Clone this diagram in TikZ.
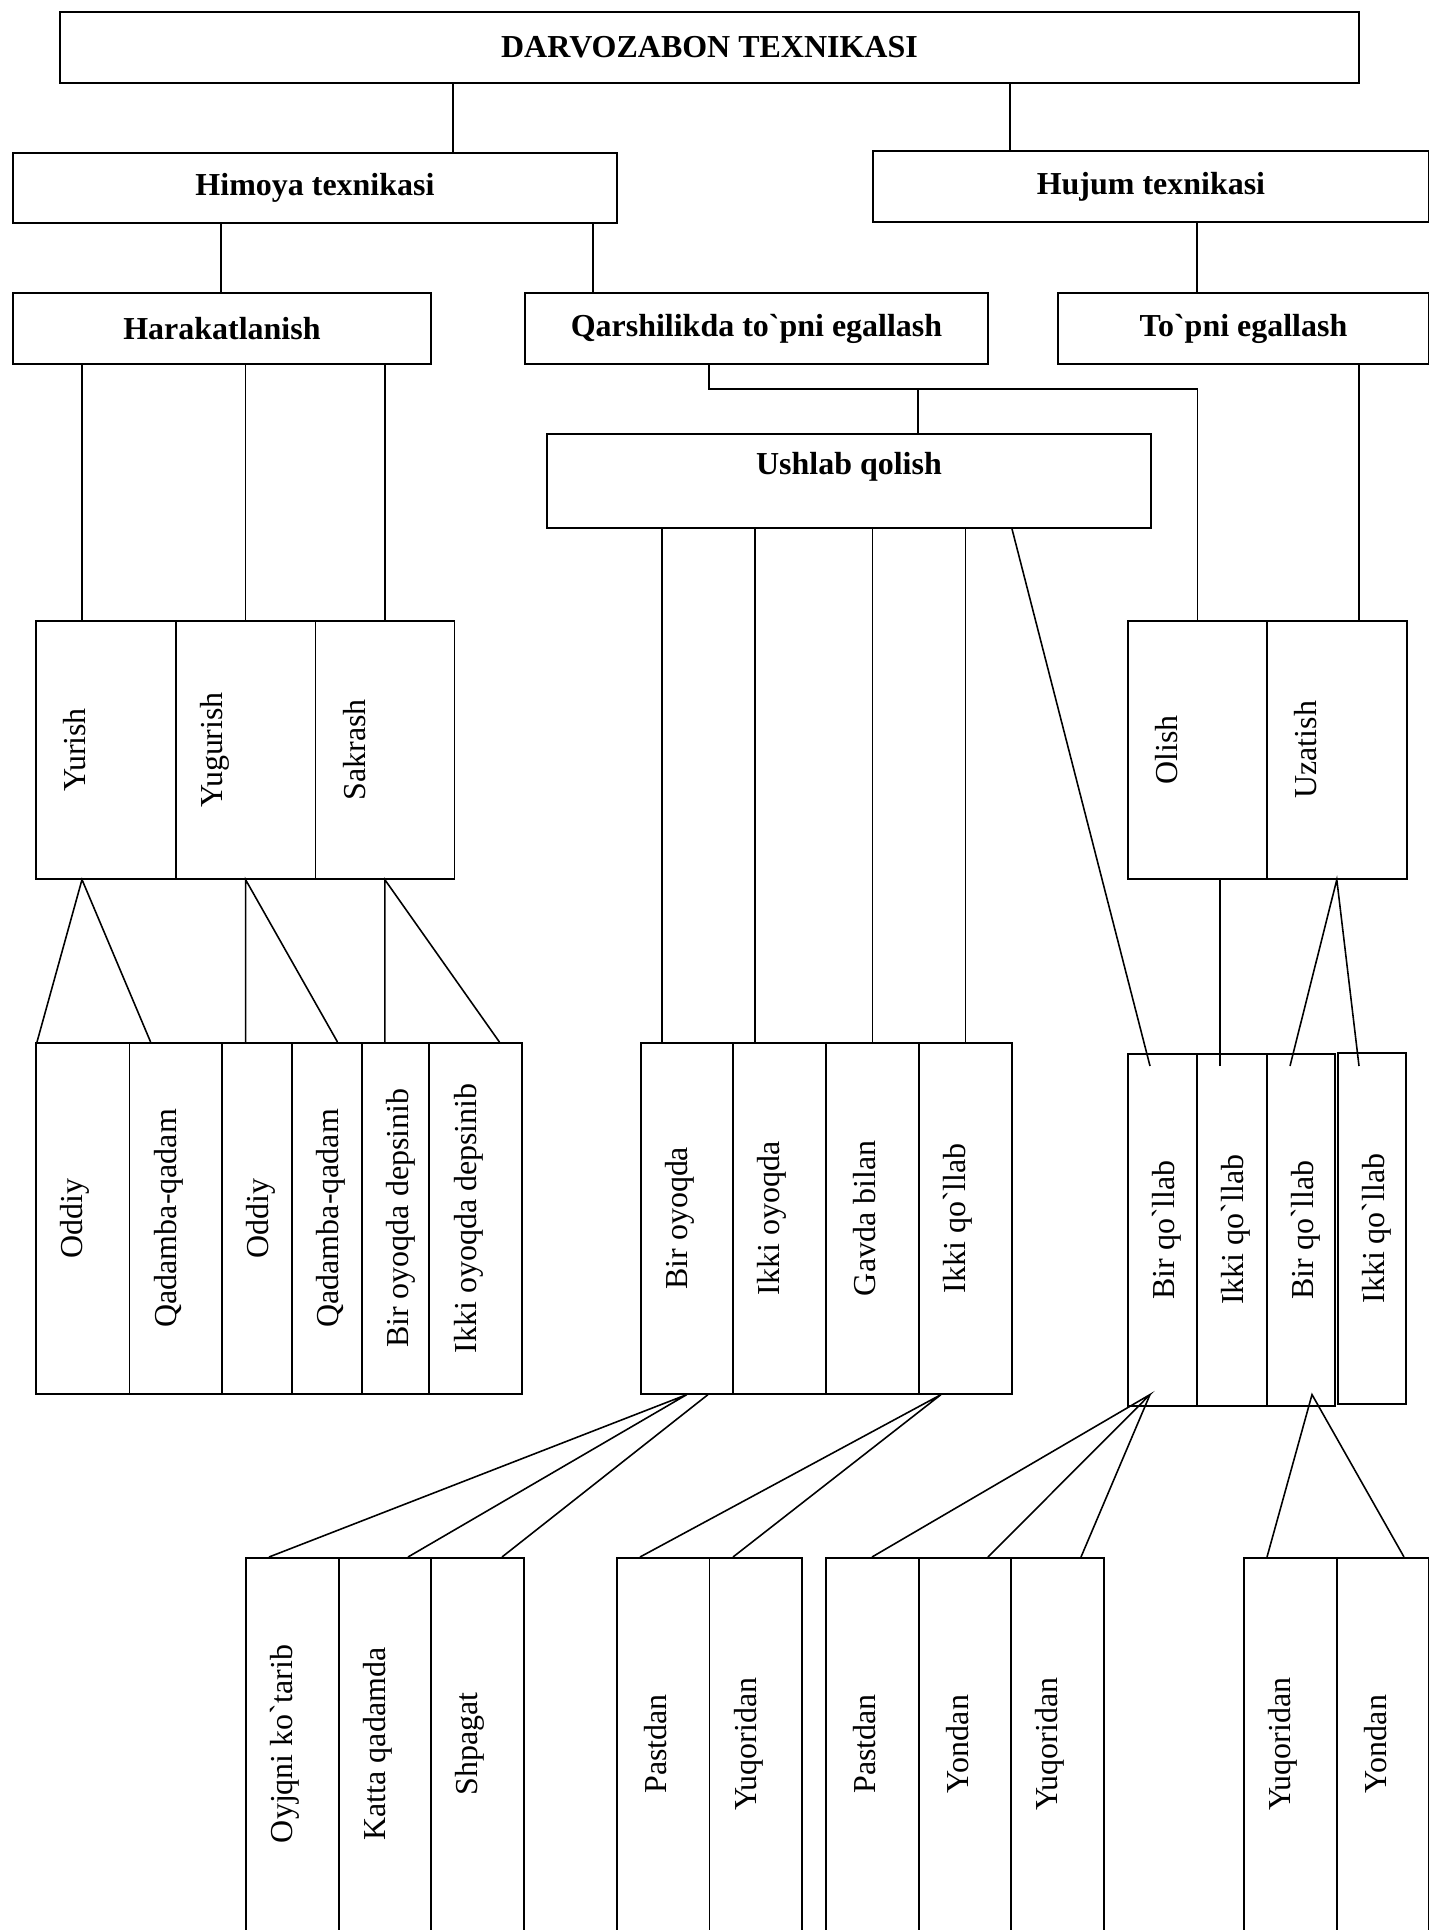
\documentclass[tikz,border=0pt]{standalone}
\usepackage{fontspec}
\setmainfont{Liberation Serif}
\usetikzlibrary{calc}
\newcommand{\grv}{\textasciigrave}
\tikzstyle{head}=[draw, line width=1.1pt, anchor=north west, inner sep=0pt, font=\fontsize{18.2}{22}\selectfont\bfseries]
\tikzset{cell/.style={draw, line width=0.9pt, anchor=north west, inner sep=0pt}}
\tikzset{vtext/.style={rotate=90, inner sep=0pt, font=\fontsize{18.2}{22}\selectfont}}
\tikzset{link/.style={line width=0.9pt}}
\tikzset{sz/.style 2 args={minimum width=#1*0.02cm, minimum height=#2*0.02cm}}

\begin{document}
\begin{tikzpicture}[x=0.02cm,y=-0.02cm]
  \useasboundingbox (0,0) rectangle (1429,1930);
  \clip (0,0) rectangle (1429,1930);

  %% Heads
  \draw (59,11) node[head,sz={1299}{71}] (A1) {DARVOZABON TEXNIKASI};
  \draw (12,152) node[head,sz={604}{70}] (B1) {Himoya texnikasi};
  \draw (872,150) node[head,sz={556}{71}] (B2) {Hujum texnikasi};
  \draw (12,292) node[head,sz={418}{71}] (C1) {Harakatlanish};
  \draw (524,292) node[head,sz={463}{71}] (C2) {Qarshilikda to\grv pni egallash};
  \draw (1057,292) node[head,sz={371}{71}] (C3) {To\grv pni egallash};
  \draw (546,433) node[head,sz={604}{94},text depth=0.7cm] (D1) {Ushlab qolish};

  \draw[link] ($(A1.south west)+(394,0)$) coordinate (a1) -- (a1 |- B1.north);
  \draw[link] ($(A1.south west)+(951,0)$) coordinate (a2) -- (a2 |- B2.north);
  \draw[link] ($(B1.south west)+(209,0)$) coordinate (b1) -- (b1 |- C1.north);
  \draw[link] ($(B1.south west)+(581,0)$) coordinate (b2) -- (b2 |- C2.north);
  \draw[link] ($(B2.south west)+(325,0)$) coordinate (b3) -- (b3 |- C3.north);

  %% Second row of cells
  \draw (35,620) node[cell,sz={140}{258}] (E1) {};
  \draw (175,620) node[cell,sz={139.5}{258}] (E2) {};
  \draw (314.5,620) node[cell,sz={139}{258}] (E3) {};
  \draw (1127,620) node[cell,sz={139}{258}] (E4) {};
  \draw (1266,620) node[cell,sz={140}{258}] (E5) {};

  \draw ($(E1.west)+(40,0)$) node[vtext] (tE1) {Yurish};
  \draw ($(E2.west)+(40,0)$) node[vtext] (tE2) {Yugurish};
  \draw ($(E3.west)+(40,0)$) node[vtext] (tE3) {Sakrash};
  \draw ($(E4.west)+(40,0)$) node[vtext] (tE4) {Olish};
  \draw ($(E5.west)+(40,0)$) node[vtext] (tE5) {Uzatish};

  \draw[link] ($(E1.north west)+(47,0)$) coordinate (e1) -- (e1 |- C1.south);
  \draw[link] (E2.north) -- (E2.north |- C1.south);
  \draw[link] (E3.north) -- (E3.north |- C1.south);
  \draw[link] ($(C2.south west)+(185,0)$) -- ++(0,24) coordinate (J1) -| (E4.north);
  \draw[link] ($(D1.north west)+(372,0)$) coordinate (d1) -- (d1 |- J1);
  \draw[link] ($(E5.north west)+(93,0)$) coordinate (e5) -- (e5 |- C3.south);

  %% Third row of cells
  \draw (35,1042) node[cell,sz={93.6}{351}] (F1) {};
  \draw (128.6,1042) node[cell,sz={92.7}{351}] (F2) {};
  \draw (221.3,1042) node[cell,sz={69.7}{351}] (F3) {};
  \draw (291,1042) node[cell,sz={70}{351}] (F4) {};
  \draw (361,1042) node[cell,sz={67.4}{351}] (F5) {};
  \draw (428.4,1042) node[cell,sz={92.6}{351}] (F6) {};

  \draw (640,1042) node[cell,sz={92}{351}] (F7) {};
  \draw (732,1042) node[cell,sz={93}{351}] (F8) {};
  \draw (825,1042) node[cell,sz={93}{351}] (F9) {};
  \draw (918,1042) node[cell,sz={93}{351}] (F10) {};

  \draw (1127,1053) node[cell,sz={69}{352}] (F11) {};
  \draw (1196,1053) node[cell,sz={70}{352}] (F12) {};
  \draw (1266,1053) node[cell,sz={68}{352}] (F13) {};
  \draw (1337,1052) node[cell,line width=1.1pt,sz={68}{351}] (F14) {};

  \draw ($(F1.west)+(40,0)$) node[vtext] (tF1) {Oddiy};
  \draw ($(F2.west)+(40,0)$) node[vtext] (tF2) {Qadamba-qadam};
  \draw ($(F3.west)+(40,0)$) node[vtext] (tF3) {Oddiy};
  \draw ($(F4.west)+(40,0)$) node[vtext] (tF4) {Qadamba-qadam};
  \draw ($(F5.west)+(40,0)$) node[vtext] (tF5) {Bir oyoqda depsinib};
  \draw ($(F6.west)+(40,0)$) node[vtext] (tF6) {Ikki oyoqda depsinib};
  \draw ($(F7.west)+(40,0)$) node[vtext] (tF7) {Bir oyoqda};
  \draw ($(F8.west)+(40,0)$) node[vtext] (tF8) {Ikki oyoqda};
  \draw ($(F9.west)+(40,0)$) node[vtext] (tF9) {Gavda bilan};
  \draw ($(F10.west)+(40,0)$) node[vtext] (tF10) {Ikki qo\grv llab};
  \draw ($(F11.west)+(40,0)$) node[vtext] (tF11) {Bir qo\grv llab};
  \draw ($(F12.west)+(40,0)$) node[vtext] (tF12) {Ikki qo\grv llab};
  \draw ($(F13.west)+(40,0)$) node[vtext] (tF13) {Bir qo\grv llab};
  \draw ($(F14.west)+(40,0)$) node[vtext] (tF14) {Ikki qo\grv llab};

  \draw[link] ($(F1.north west)+(2,0)$) -- ($(E1.south west)+(47,0)$) -- ($(F2.north west)+(22,0)$);
  \draw[link] (E2.south |- F3.north) -- (E2.south) -- ($(F4.north west)+(46.5,0)$);
  \draw[link] (E3.south |- F5.north) -- (E3.south) -- ($(F6.north west)+(71,0)$);

  \draw[link] ($(F7.north west)+(22,0)$) coordinate (f7) -- (f7 |- D1.south);
  \draw[link] ($(F8.north west)+(23,0)$) coordinate (f8) -- (f8 |- D1.south);
  \draw[link] (F9.north) -- (F9.north |- D1.south);
  \draw[link] (F10.north) -- (F10.north |- D1.south);
  \draw[link] ($(D1.south west)+(466,0)$) -- ($(F11.north west)+(23,13)$);

  \draw[link] ($(F12.north west)+(24,13)$) -- ($(E4.south west)+(93,0)$);
  \draw[link] ($(F13.north west)+(24,13)$) -- (E5.south) -- ($(F14.north west)+(22,14)$);

  %% Bottom row of cells
  \draw (245,1557) node[cell,sz={93}{400}] (G1) {};
  \draw (338,1557) node[cell,sz={92}{400}] (G2) {};
  \draw (430,1557) node[cell,sz={93}{400}] (G3) {};
  \draw (616,1557) node[cell,sz={92.6}{400}] (G4) {};
  \draw (708.6,1557) node[cell,sz={92.4}{400}] (G5) {};
  \draw (825,1557) node[cell,sz={93}{400}] (G6) {};
  \draw (918,1557) node[cell,sz={92}{400}] (G7) {};
  \draw (1010,1557) node[cell,sz={93}{400}] (G8) {};
  \draw (1243,1557) node[cell,sz={93}{400}] (G9) {};
  \draw (1336,1557) node[cell,sz={92}{400}] (G10) {};

  \draw ($(G1.north west)+(40,187)$) node[vtext] (tG1) {Oyjqni ko\grv tarib};
  \draw ($(G2.north west)+(40,187)$) node[vtext] (tG2) {Katta qadamda};
  \draw ($(G3.north west)+(40,187)$) node[vtext] (tG3) {Shpagat};
  \draw ($(G4.north west)+(40,187)$) node[vtext] (tG4) {Pastdan};
  \draw ($(G5.north west)+(40,187)$) node[vtext] (tG5) {Yuqoridan};
  \draw ($(G6.north west)+(40,187)$) node[vtext] (tG6) {Pastdan};
  \draw ($(G7.north west)+(40,187)$) node[vtext] (tG7) {Yondan};
  \draw ($(G8.north west)+(40,187)$) node[vtext] (tG8) {Yuqoridan};
  \draw ($(G9.north west)+(40,187)$) node[vtext] (tG9) {Yuqoridan};
  \draw ($(G10.north west)+(40,187)$) node[vtext] (tG10) {Yondan};

  \draw[link] ($(G1.north west)+(24,0)$) -- (F7.south) -- ($(G2.north west)+(70,0)$);
  \draw[link] ($(F7.south west)+(68,0)$) -- ($(G3.north west)+(72,0)$);
  \draw[link] ($(G4.north west)+(24,0)$) -- ($(F10.south west)+(23,0)$) -- ($(G5.north west)+(24.4,0)$);
  \draw[link] ($(G6.north west)+(47,0)$) -- ($(F11.south west)+(23,-12)$) coordinate (f11) -- ($(G7.north west)+(70,0)$);
  \draw[link] (f11) -- ($(G8.north west)+(71,0)$);
  \draw[link] ($(G9.north west)+(24,0)$) -- ($(F13.south west)+(46,-12)$) -- ($(G10.north west)+(68,0)$);
\end{tikzpicture}
\end{document}
